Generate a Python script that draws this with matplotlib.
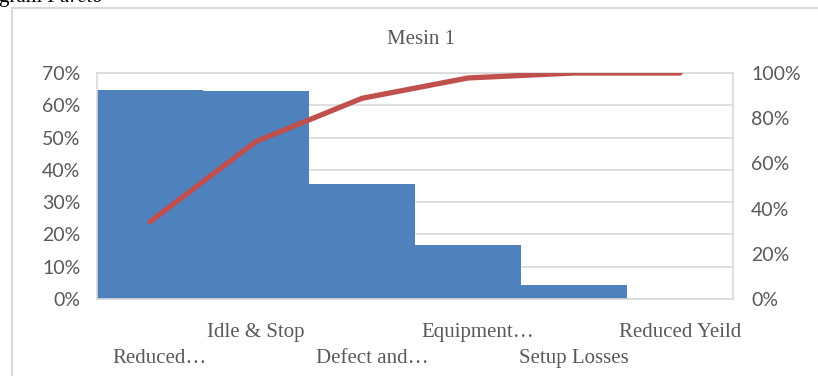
import numpy as np
import matplotlib.pyplot as plt
import matplotlib.patches as mpatches
from matplotlib.ticker import PercentFormatter
from matplotlib.transforms import ScaledTranslation

categories = ['Reduced…', 'Idle & Stop', 'Defect and…', 'Equipment…',
              'Setup Losses', 'Reduced Yeild']
share = [0.647, 0.644, 0.357, 0.166, 0.042, 0.0]
cumulative = [0.342, 0.697, 0.888, 0.978, 1.0, 1.0]
left_ticks = [0, 0.1, 0.2, 0.3, 0.4, 0.5, 0.6, 0.7]
right_ticks = [0, 0.2, 0.4, 0.6, 0.8, 1.0]

grey = '#595959'
light = '#D9D9D9'
serif = 'Liberation Serif'
sans = 'Lato'

W, H = 818, 376
fig = plt.figure(figsize=(W / 100, H / 100), dpi=100)

# chart area border (runs off the right and bottom edges)
fig.patches.append(mpatches.Rectangle((12 / W, -0.1), 1.2, 1.1 - 8 / H,
                                      transform=fig.transFigure, fill=False,
                                      edgecolor=light, lw=1.5))
# cropped caption from the document above the chart
fig.text(-1 / W, 1 - 2 / H, 'gram ', family=serif, fontsize=15, va='baseline')
fig.text(47 / W, 1 - 2 / H, 'Pareto', family=serif, fontsize=15, va='baseline',
         style='italic')

ax = fig.add_axes([97 / W, 1 - 299 / H, 636 / W, 226 / H])
x = np.arange(len(categories))
ax.bar(x, share, width=1.0, color='#4F81BD', zorder=2)
ax.set_xlim(-0.5, len(categories) - 0.5)
ax.set_ylim(0, 0.7)
ax.set_yticks(left_ticks)
ax.yaxis.set_major_formatter(PercentFormatter(1.0, decimals=0))
ax.yaxis.grid(True, color=light, lw=1.2, zorder=0)
ax.set_axisbelow(True)
for s in ax.spines.values():
    s.set_color(light)
    s.set_linewidth(1.2)
ax.tick_params(axis='y', length=0, pad=12, labelsize=14, labelcolor=grey)
for t in ax.get_yticklabels():
    t.set_family(sans)

# staggered category labels: odd ones on top row, even ones below
ax.set_xticks(x[1::2], [categories[i] for i in x[1::2]])
ax.set_xticks(x[0::2], [categories[i] for i in x[0::2]], minor=True)
ax.tick_params(axis='x', which='major', length=0, pad=17.5, labelsize=15,
               labelcolor=grey)
ax.tick_params(axis='x', which='minor', length=0, pad=36, labelsize=15,
               labelcolor=grey)
nudge = ScaledTranslation(0.10, 0, fig.dpi_scale_trans)
for t in ax.get_xticklabels(which='both'):
    t.set_family(serif)
    if t.get_text().endswith('…'):
        t.set_transform(t.get_transform() + nudge)

ax2 = ax.twinx()
ax2.plot(x, cumulative, color='#C0504D', lw=3.8, solid_capstyle='round',
         solid_joinstyle='round', zorder=3)
ax2.set_ylim(0, 1.0)
ax2.set_yticks(right_ticks)
ax2.yaxis.set_major_formatter(PercentFormatter(1.0, decimals=0))
for s in ax2.spines.values():
    s.set_visible(False)
ax2.tick_params(axis='y', length=0, pad=13, labelsize=14, labelcolor=grey)
for t in ax2.get_yticklabels():
    t.set_family(sans)

fig.text(421 / W, 1 - 44 / H, 'Mesin 1', family=serif, fontsize=15,
         color=grey, ha='center', va='baseline')

fig.savefig('out.png', dpi=100)
